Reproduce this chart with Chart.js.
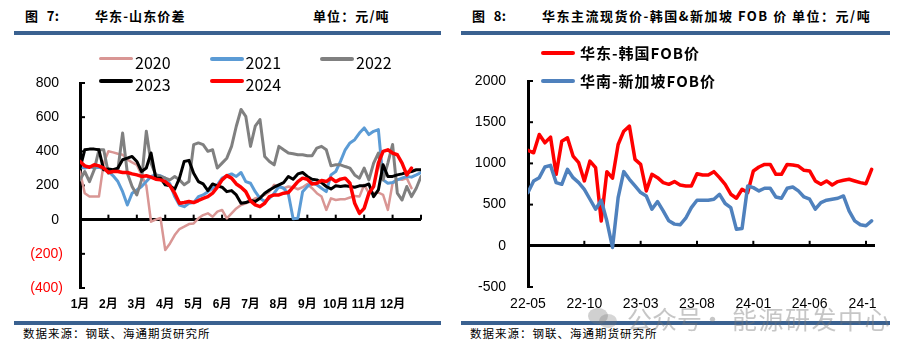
<!DOCTYPE html>
<html><head><meta charset="utf-8">
<script src="https://cdn.jsdelivr.net/npm/chart.js@4.4.1/dist/chart.umd.min.js"></script>
<style>
html,body{margin:0;padding:0;background:#fff;}
body{width:915px;height:357px;position:relative;overflow:hidden;font-family:"Noto Sans CJK SC",sans-serif;color:#000;}
.t{position:absolute;white-space:nowrap;font-size:13px;font-weight:700;line-height:16px;top:8px;letter-spacing:1.1px;}
.rule{position:absolute;height:4px;background:#3A6190;}
.src{position:absolute;white-space:nowrap;font-size:11.5px;line-height:14px;top:326px;letter-spacing:1px;}
.lg{position:absolute;white-space:nowrap;}
.lg i{position:absolute;left:0;height:4px;border-radius:2px;}
.lg span{position:absolute;white-space:nowrap;}
.wm{position:absolute;white-space:nowrap;color:rgba(120,120,120,0.42);font-size:25px;line-height:28px;top:304px;}
canvas{position:absolute;left:0;top:0;}
</style>
</head><body>

<div class="t" style="left:25px;word-spacing:5px;letter-spacing:0.4px">图 7:</div>
<div class="t" style="left:95px">华东-山东价差</div>
<div class="t" style="left:313px">单位：元/吨</div>
<div class="t" style="left:472px;word-spacing:5px;letter-spacing:0.4px">图 8:</div>
<div class="t" style="left:542px;letter-spacing:1.5px">华东主流现货价-韩国&amp;新加坡 FOB 价 单位：元/吨</div>

<div class="rule" style="left:14px;width:427px;top:31px"></div>
<div class="rule" style="left:461px;width:429px;top:31px"></div>
<div class="rule" style="left:14px;width:427px;top:321px"></div>
<div class="rule" style="left:461px;width:429px;top:321px"></div>

<div class="src" style="left:23px">数据来源：钢联、海通期货研究所</div>
<div class="src" style="left:470px">数据来源：钢联、海通期货研究所</div>

<canvas id="cL" width="450" height="357" style="width:450px;height:357px"></canvas>
<div style="position:absolute;left:455px;top:0;width:421px;height:357px;overflow:hidden">
  <canvas id="cR" width="460" height="357" style="width:460px;height:357px"></canvas>
</div>

<div id="legL"></div>
<div id="legR"></div>

<div class="wm" style="left:588px;top:306px;width:30px;height:24px;">
  <div style="position:absolute;left:0;top:2px;width:20px;height:16px;border-radius:50%;background:rgba(120,120,120,0.35)"></div>
  <div style="position:absolute;left:11px;top:8px;width:18px;height:14px;border-radius:50%;background:rgba(120,120,120,0.3)"></div>
</div>
<div class="wm" style="left:627px">公众号</div>
<div class="wm" style="left:700px">·</div>
<div class="wm" style="left:732px;letter-spacing:1.5px">能源研发中心</div>

<script>
// ---------- Left chart: 华东-山东价差 (values read every 1/6 month) ----------
const monthLabels = ['1月','2月','3月','4月','5月','6月','7月','8月','9月','10月','11月','12月'];
const yTicksL = [-400,-200,0,200,400,600,800];
const namesL = ['2020','2021','2022','2023','2024'];
const colorsL = ['#D99694','#5B9BD5','#808080','#000000','#FF0000'];

const v2020 = [282,155,135,135,135,331,400,394,386,380,351,335,321,262,200,-12,0,10,-178,-139,-90,-55,-41,-26,-22,8,27,37,17,47,57,8,37,66,86,96,106,125,135,145,164,204,194,184,194,190,178,190,209,184,155,135,57,125,115,119,120,130,139,135,204,155,155,159,145,57,213,237,233,243,184];
const v2021 = [307,302,311,302,307,296,282,257,223,164,86,155,174,194,223,253,262,257,243,209,135,86,76,96,100,135,145,164,184,204,243,257,268,253,276,223,213,164,125,106,125,155,194,184,150,5,8,164,194,217,204,184,164,262,282,341,409,449,468,507,537,498,517,527,233,213,217,233,243,253,249,262,276];
const v2022 = [233,282,223,292,409,409,272,282,292,507,272,194,145,233,517,331,262,253,243,233,253,233,204,223,439,449,439,400,409,302,331,360,429,547,645,605,429,547,586,370,341,321,429,409,390,386,380,380,374,374,419,429,409,315,321,321,311,302,262,243,302,233,331,390,233,331,440,155,115,194,135,184,253];
const v2023 = [300,409,413,413,409,292,296,292,302,351,360,370,341,282,302,390,243,243,204,198,178,243,341,347,272,223,209,170,209,198,190,164,170,145,96,100,112,106,125,155,174,190,204,217,253,237,268,276,253,237,233,217,194,180,198,194,198,194,190,198,198,209,135,174,321,253,253,262,268,276,282,292,292];
const v2024 = [341,315,307,321,315,302,276,282,282,276,276,268,262,253,257,249,237,233,223,198,155,96,100,106,100,112,125,135,155,190,233,258,243,209,190,164,110,86,76,96,135,145,145,155,159,190,223,243,237,209,213,229,223,243,223,237,243,213,96,37,66,155,194,331,400,409,390,380,331,262,302];
const STEP_L = 1/6;

// ---------- Right chart: 华东主流现货价-韩国&新加坡 FOB 价 (values read every 0.5 month from 22-05) ----------
const xLabelsR = ['22-05','22-10','23-03','23-08','24-01','24-06','24-11'];
const xTickPosR = [0,5,10,15,20,25,30];
const yTicksR = [-500,0,500,1000,1500,2000];
const namesR = ['华东-韩国FOB价','华南-新加坡FOB价'];
const colorsR = ['#FF0000','#4F81BD'];
const vKorea = [1158,1129,1351,1250,1319,867,1270,1311,1089,1008,787,1028,948,300,900,820,1230,1391,1452,1049,988,666,867,827,767,746,779,738,726,726,875,859,859,900,827,746,626,577,686,646,908,956,988,988,867,867,988,980,968,916,908,787,746,787,738,779,795,807,787,767,754,928];
const vSing = [646,787,827,956,976,767,746,928,827,767,686,565,444,553,300,-20,585,900,807,726,646,605,444,537,424,303,263,255,335,464,553,553,553,565,625,513,464,200,210,726,706,666,698,698,593,577,698,714,666,593,565,444,525,553,565,577,605,424,303,255,243,303];
const STEP_R = 0.5;

const pts = (arr, step) => arr.map((v, i) => ({x: i * step, y: v}));

const innerTicks = {
  id: 'innerTicks',
  beforeDatasetsDraw(chart, args, opts) {
    const {ctx, chartArea: a, scales: {x, y}} = chart;
    ctx.save();
    ctx.strokeStyle = '#000';
    ctx.lineWidth = 2;
    y.ticks.forEach(t => {
      const py = y.getPixelForValue(t.value);
      ctx.beginPath(); ctx.moveTo(a.left, py); ctx.lineTo(a.left + 5, py); ctx.stroke();
    });
    const py0 = y.getPixelForValue(0);
    (opts.xMarks || []).forEach(v => {
      const px = x.getPixelForValue(v);
      ctx.beginPath(); ctx.moveTo(px, py0); ctx.lineTo(px, py0 - 5); ctx.stroke();
    });
    ctx.restore();
  }
};

const FAM = '"Liberation Sans","Noto Sans CJK SC",sans-serif';
const zeroGrid = {
  drawTicks: false,
  color: c => (c.tick && c.tick.value === 0) ? '#000' : 'rgba(0,0,0,0)',
  lineWidth: c => (c.tick && c.tick.value === 0) ? 3 : 1
};

// Left chart
const dsL = [v2020, v2021, v2022, v2023, v2024].map((arr, i) => ({
  label: namesL[i], data: pts(arr, STEP_L), borderColor: colorsL[i],
  borderWidth: i === 0 ? 2.5 : (i === 4 ? 3.5 : 3), order: 4 - i
}));
new Chart(document.getElementById('cL'), {
  type: 'line',
  data: {datasets: dsL},
  options: {
    responsive: false, animation: false, devicePixelRatio: 1,
    elements: {point: {radius: 0}, line: {tension: 0, borderJoinStyle: 'round', borderCapStyle: 'round'}},
    layout: {padding: {left: 0, top: 83, right: 29, bottom: 39}},
    plugins: {legend: {display: false}, tooltip: {enabled: false}, innerTicks: {xMarks: [1,2,3,4,5,6,7,8,9,10,11,12]}},
    scales: {
      x: {
        type: 'linear', min: 0, max: 12,
        afterBuildTicks: s => { s.ticks = monthLabels.map((m, i) => ({value: i})); },
        afterFit: s => { s.height = 30; },
        ticks: {callback: v => monthLabels[v] || '', autoSkip: false, maxRotation: 0, padding: 9, color: '#000',
                font: {family: FAM, size: 12, weight: 'bold'}},
        grid: {display: false, drawTicks: false},
        border: {display: false}
      },
      y: {
        min: -400, max: 800,
        afterBuildTicks: s => { s.ticks = yTicksL.map(v => ({value: v})); },
        afterFit: s => { s.width = 80; },
        ticks: {callback: v => v < 0 ? '(' + (-v) + ')' : v + ' ', padding: 17,
                color: c => c.tick.value < 0 ? '#FF0000' : '#000',
                font: {family: FAM, size: 14}},
        grid: zeroGrid,
        border: {display: true, color: '#000', width: 3}
      }
    }
  },
  plugins: [innerTicks]
});

// Right chart
const dsR = [vKorea, vSing].map((arr, i) => ({
  label: namesR[i], data: pts(arr, STEP_R), borderColor: colorsR[i], borderWidth: 3.5, order: 1 - i
}));
new Chart(document.getElementById('cR'), {
  type: 'line',
  data: {datasets: dsR},
  options: {
    responsive: false, animation: false, devicePixelRatio: 1,
    elements: {point: {radius: 0}, line: {tension: 0, borderJoinStyle: 'round', borderCapStyle: 'round'}},
    layout: {padding: {left: 0, top: 81, right: 40, bottom: 40}},
    plugins: {legend: {display: false}, tooltip: {enabled: false}, innerTicks: {xMarks: [5,10,15,20,25,30]}},
    scales: {
      x: {
        type: 'linear', min: 0, max: 30.8,
        afterBuildTicks: s => { s.ticks = xTickPosR.map(v => ({value: v})); },
        afterFit: s => { s.height = 30; },
        ticks: {callback: (v) => xLabelsR[xTickPosR.indexOf(v)] || '', autoSkip: false, maxRotation: 0, padding: 9, color: '#000',
                font: {family: FAM, size: 14}},
        grid: {display: false, drawTicks: false},
        border: {display: false}
      },
      y: {
        min: -500, max: 2000,
        afterBuildTicks: s => { s.ticks = yTicksR.map(v => ({value: v})); },
        afterFit: s => { s.width = 73; },
        ticks: {callback: v => String(v), padding: 22, color: '#000', font: {family: FAM, size: 14}},
        grid: zeroGrid,
        border: {display: true, color: '#000', width: 3}
      }
    }
  },
  plugins: [innerTicks]
});

// HTML legends built from the series names/colours
const legL = document.getElementById('legL');
namesL.forEach((n, i) => {
  const col = i % 3, row = Math.floor(i / 3);
  const d = document.createElement('div');
  d.className = 'lg';
  d.style.left = (99 + col * 110.5) + 'px';
  d.style.top = (50 + row * 21.6) + 'px';
  d.innerHTML = '<i style="top:7px;width:34px;height:' + (i === 0 ? 3 : 4) + 'px;background:' + colorsL[i] + '"></i>' +
                '<span style="left:36px;top:0;font:15px/18px ' + FAM + '">' + n + '</span>';
  legL.appendChild(d);
});
const legR = document.getElementById('legR');
namesR.forEach((n, i) => {
  const d = document.createElement('div');
  d.className = 'lg';
  d.style.left = '541px';
  d.style.top = (42 + i * 28.4) + 'px';
  d.innerHTML = '<i style="top:9px;width:34px;height:4px;background:' + colorsR[i] + '"></i>' +
                '<span style="left:39px;top:0;font:700 15px/22px &quot;Noto Sans CJK SC&quot;,sans-serif;letter-spacing:1px">' + n + '</span>';
  legR.appendChild(d);
});
</script>
</body></html>
